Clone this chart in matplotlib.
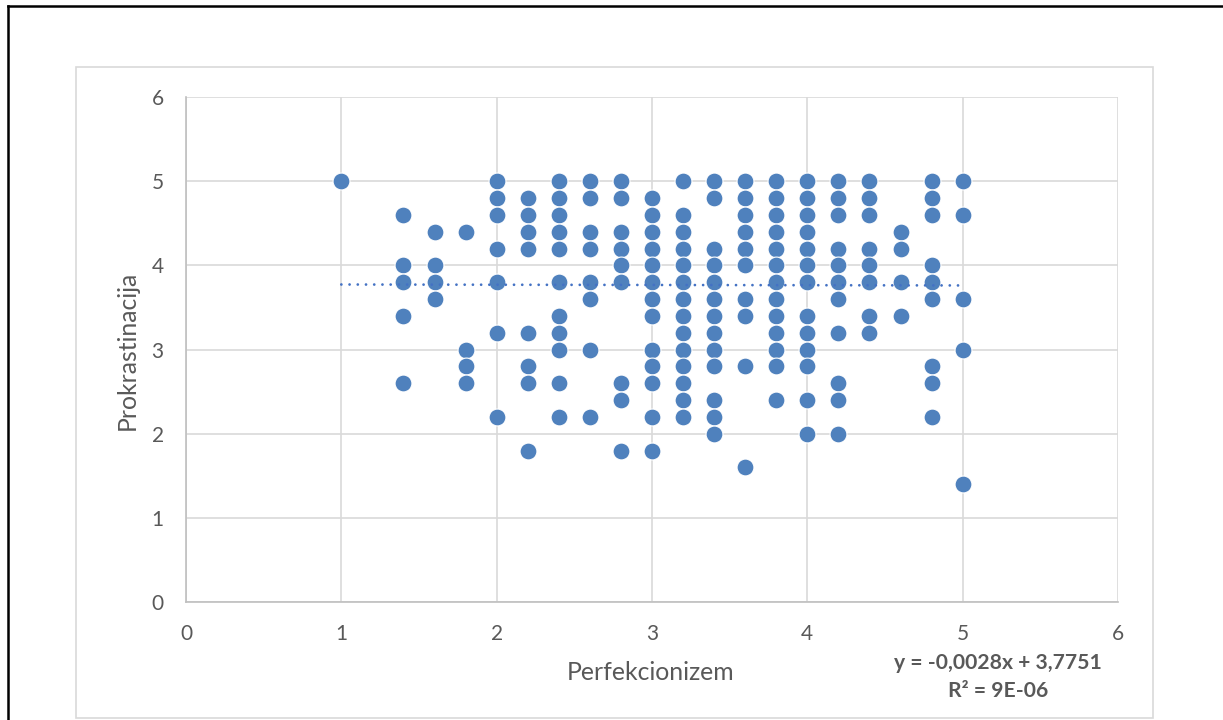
import matplotlib
matplotlib.use("Agg")
import matplotlib.pyplot as plt
from matplotlib.lines import Line2D
from matplotlib.patches import Rectangle
import numpy as np

plt.rcParams['font.family'] = ['Lato', 'DejaVu Sans']

### perfekcionizem levels (x) and the prokrastinacija scores seen at each level (y)
x_levels = [1.0, 1.4, 1.6, 1.8, 2.0, 2.2, 2.4, 2.6, 2.8, 3.0,
            3.2, 3.4, 3.6, 3.8, 4.0, 4.2, 4.4, 4.6, 4.8, 5.0]
y_by_level = [
    [5.0],
    [4.6, 4.0, 3.8, 3.4, 2.6],
    [4.4, 4.0, 3.8, 3.6],
    [4.4, 3.0, 2.8, 2.6],
    [5.0, 4.8, 4.6, 4.2, 3.8, 3.2, 2.2],
    [4.8, 4.6, 4.4, 4.2, 3.2, 2.8, 2.6, 1.8],
    [5.0, 4.8, 4.6, 4.4, 4.2, 3.8, 3.4, 3.2, 3.0, 2.6, 2.2],
    [5.0, 4.8, 4.4, 4.2, 3.8, 3.6, 3.0, 2.2],
    [5.0, 4.8, 4.4, 4.2, 4.0, 3.8, 2.6, 2.4, 1.8],
    [4.8, 4.6, 4.4, 4.2, 4.0, 3.8, 3.6, 3.4, 3.0, 2.8, 2.6, 2.2, 1.8],
    [5.0, 4.6, 4.4, 4.2, 4.0, 3.8, 3.6, 3.4, 3.2, 3.0, 2.8, 2.6, 2.4, 2.2],
    [5.0, 4.8, 4.2, 4.0, 3.8, 3.6, 3.4, 3.2, 3.0, 2.8, 2.4, 2.2, 2.0],
    [5.0, 4.8, 4.6, 4.4, 4.2, 4.0, 3.6, 3.4, 2.8, 1.6],
    [5.0, 4.8, 4.6, 4.4, 4.2, 4.0, 3.8, 3.6, 3.4, 3.2, 3.0, 2.8, 2.4],
    [5.0, 4.8, 4.6, 4.4, 4.2, 4.0, 3.8, 3.4, 3.2, 3.0, 2.8, 2.4, 2.0],
    [5.0, 4.8, 4.6, 4.2, 4.0, 3.8, 3.6, 3.2, 2.6, 2.4, 2.0],
    [5.0, 4.8, 4.6, 4.2, 4.0, 3.8, 3.4, 3.2],
    [4.4, 4.2, 3.8, 3.4],
    [5.0, 4.8, 4.6, 4.0, 3.8, 3.6, 2.8, 2.6, 2.2],
    [5.0, 4.6, 3.6, 3.0, 1.4],
]

# linear trendline as reported by excel
slope = -0.0028
intercept = 3.7751
eq_text = "y = -0,0028x + 3,7751"
r2_text = "R² = 9E-06"

xs = np.concatenate([[x] * len(ys) for x, ys in zip(x_levels, y_by_level)])
ys = np.concatenate(y_by_level)

W, H = 1223, 720
fig = plt.figure(figsize=(W / 100, H / 100), dpi=100)
ax = fig.add_axes([186 / W, 1 - 602 / H, (1118 - 186) / W, (602 - 97) / H])

grid_col = "#D9D9D9"
text_col = "#595959"
dot_col = "#4F81BD"

ax.set_xlim(0, 6)
ax.set_ylim(0, 6)
ax.set_xticks(range(0, 7))
ax.set_yticks(range(0, 7))
ax.grid(True, color=grid_col, linewidth=1.2)
ax.set_axisbelow(True)
for side in ["top", "right"]:
    ax.spines[side].set_visible(False)
for side in ["left", "bottom"]:
    ax.spines[side].set_color("#BFBFBF")
    ax.spines[side].set_linewidth(1.2)
ax.tick_params(length=0, pad=16, labelsize=15, labelcolor=text_col)

ax.scatter(xs, ys, s=148, color=dot_col, edgecolors="white", linewidths=0.8, zorder=3)

tx = np.array([min(xs), max(xs)])
ax.plot(tx, slope * tx + intercept, color="#4472C4", linewidth=2.0,
        dashes=(0.01, 2.95), dash_capstyle="round", zorder=4)

fig.text(651 / W, 1 - 673 / H, "Perfekcionizem", ha="center", va="center",
         fontsize=17.8, color=text_col)
fig.text(127 / W, 1 - 350 / H, "Prokrastinacija", ha="center", va="center",
         rotation=90, fontsize=17.8, color=text_col)
fig.text(998 / W, 1 - 663 / H, eq_text, ha="center", va="center",
         fontsize=15.2, fontweight="bold", color=text_col)
fig.text(998 / W, 1 - 691 / H, r2_text, ha="center", va="center",
         fontsize=15.2, fontweight="bold", color=text_col)

# chart area border and the black frame around it
fig.patches.append(Rectangle((76 / W, 1 - 718 / H), (1153 - 76) / W, (718 - 67) / H,
                             transform=fig.transFigure, fill=False,
                             edgecolor=grid_col, linewidth=1.2))
fig.lines.append(Line2D([8 / W, 8 / W], [0, 1 - 6 / H], transform=fig.transFigure,
                        color="black", linewidth=1.8))
fig.lines.append(Line2D([8 / W, 1], [1 - 6 / H, 1 - 6 / H], transform=fig.transFigure,
                        color="black", linewidth=1.8))

fig.savefig("out.png", dpi=100)
